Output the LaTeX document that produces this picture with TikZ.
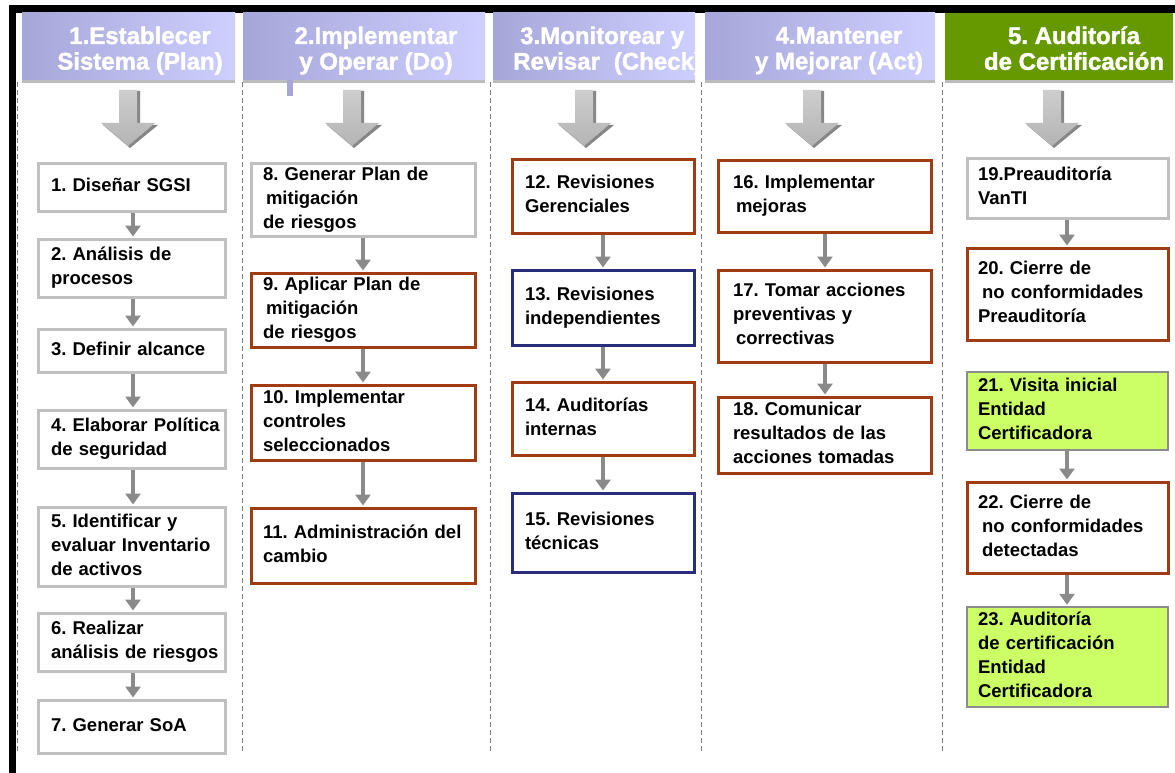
\documentclass[tikz,border=0pt]{standalone}
\usepackage{fontspec}
\setmainfont{Liberation Sans}
\newfontfamily\hdrfont{Liberation Sans}[BoldFeatures={FakeBold=1.6}]
\usetikzlibrary{arrows.meta}

\definecolor{bordergray}{RGB}{192,192,192}
\definecolor{borderbrown}{RGB}{160,60,18}
\definecolor{borderblue}{RGB}{44,44,124}
\definecolor{bordergreen}{RGB}{140,140,140}
\definecolor{fillgreen}{RGB}{204,255,102}
\definecolor{hdrgreen}{RGB}{102,153,0}
\definecolor{hdrdark}{RGB}{166,166,216}
\definecolor{hdrlight}{RGB}{206,206,255}
\definecolor{conncol}{RGB}{138,138,138}
\definecolor{sepcol}{RGB}{125,125,125}
\definecolor{bigarrowtop}{RGB}{205,205,205}
\definecolor{bigarrowbot}{RGB}{180,180,180}
\definecolor{bigarrowside}{RGB}{135,135,135}

\tikzset{
  task/.style={draw, line width=3pt, fill=white, inner ysep=0pt,
    font=\frenchspacing\bfseries\fontsize{18.5}{24}\selectfont, text=black},
  graybox/.style={draw=bordergray},
  brownbox/.style={draw=borderbrown},
  bluebox/.style={draw=borderblue},
  greenbox/.style={draw=bordergreen, line width=2.5pt, fill=fillgreen},
  hdr/.style={inner sep=0pt, draw=none},
  hdrtext/.style={inner sep=0pt, text=white,
    font=\frenchspacing\hdrfont\bfseries\fontsize{24}{24}\selectfont},
  conn/.style={draw=conncol, line width=3.5pt,
    -{Triangle[width=15pt,length=11pt]}, shorten >=1pt},
  sepline/.style={draw=sepcol, line width=0.9pt, dash pattern=on 5pt off 3pt},
}

% lines of a task box, kept exactly as broken
\newcommand{\boxlines}[1]{\begin{tabular}{@{}l@{}}#1\end{tabular}}
% name, style, text inset, x1, y1, x2, y2, text
\newcommand{\taskbox}[8]{%
  \pgfmathsetmacro{\tbw}{#6-#4}%
  \pgfmathsetmacro{\tbh}{#7-#5}%
  \pgfmathsetmacro{\tbt}{#6-#4-2*#3}%
  \node[task,#2,inner xsep=#3pt,minimum width=\tbw pt,minimum height=\tbh pt,
    text width=\tbt pt] (#1) at ({(#4+#6)/2},{(#5+#7)/2}) {\boxlines{#8}};}
% name, x1, x2, extra options
\newcommand{\hdrbox}[4]{%
  \pgfmathsetmacro{\hbw}{#3-#2}%
  \node[hdr,#4,minimum width=\hbw pt,minimum height=67pt] (#1) at ({(#2+#3)/2},46.5) {};
  \fill[gray!65, opacity=0.8] (#1.south west) rectangle ([yshift=-3pt]#1.south east);}

\begin{document}
\begin{tikzpicture}[x=1pt,y=-1pt]
\useasboundingbox (0,0) rectangle (1175,773);
\fill[white] (0,0) rectangle (1175,773);

% frame
\fill[black] (9,5) rectangle (1175,13);
\fill[black] (9,5) rectangle (16,773);

% column headers
\hdrbox{h1}{22}{235}{left color=hdrdark, right color=hdrlight}
\hdrbox{h2}{243}{485}{left color=hdrdark, right color=hdrlight}
\hdrbox{h3}{493}{695}{left color=hdrdark, right color=hdrlight}
\hdrbox{h4}{705}{935}{left color=hdrdark, right color=hdrlight}
\hdrbox{h5}{945}{1173}{fill=hdrgreen}
\fill[hdrdark] (287,80) rectangle (293,96);

\node[hdrtext, align=center] (t1) at (140,51.7) {1.Establecer\strut\\Sistema (Plan)\strut};
\node[hdrtext, align=center] (t2) at (376,51.7) {2.Implementar\strut\\y Operar (Do)\strut};
\begin{scope}
  \clip (493,13) rectangle (695,80);
  \node[hdrtext, align=left, anchor=west] (t3) at (513,51.7)
    {\hspace*{7pt}3.Monitorear y\strut\\Revisar\hspace{14pt}(Check)\strut};
\end{scope}
\node[hdrtext, align=center] (t4) at (839,51.7) {4.Mantener\strut\\y Mejorar (Act)\strut};
\node[hdrtext, align=center] (t5) at (1074,51.7) {5. Auditoría\strut\\de Certificación\strut};

% column separators
\foreach \sx in {17,242,490,701,942}
  \draw[sepline] (\sx,82) -- (\sx,751);

% large down arrows under the headers
\foreach \c in {128,352,584,812,1052} {
  \fill[bigarrowside] ({\c-6},91) -- ({\c+12},91) -- ({\c+12},125) -- ({\c+30},125)
    -- ({\c+2},148) -- ({\c-25},125) -- ({\c-6},125) -- cycle;
  \shade[top color=bigarrowtop, bottom color=bigarrowbot]
    ({\c-9},90) -- ({\c+9},90) -- ({\c+9},123) -- ({\c+27},123)
    -- (\c,146) -- ({\c-27},123) -- ({\c-9},123) -- cycle;
}

% column 1: Plan
\taskbox{b1}{graybox}{13}{38}{163}{225}{211}{1. Diseñar SGSI}
\taskbox{b2}{graybox}{13}{38}{239}{225}{297}{2. Análisis de\\procesos}
\taskbox{b3}{graybox}{13}{38}{329}{225}{372}{3. Definir alcance}
\taskbox{b4}{graybox}{13}{38}{410}{225}{468}{4. Elaborar Política\\de seguridad}
\taskbox{b5}{graybox}{13}{38}{507}{225}{586}{5. Identificar y\\evaluar Inventario\\de\hspace{6pt}activos}
\taskbox{b6}{graybox}{13}{38}{613}{225}{671}{6. Realizar\\análisis de\hspace{6pt}riesgos}
\taskbox{b7}{graybox}{13}{38}{700}{225}{753}{7. Generar SoA}

% column 2: Do
\taskbox{b8}{graybox}{12}{251}{163}{475}{236}{8. Generar Plan de\\\hspace*{3pt}mitigación\\de riesgos}
\taskbox{b9}{brownbox}{12}{251}{273}{475}{347}{9. Aplicar Plan de\\\hspace*{3pt}mitigación\\de riesgos}
\taskbox{b10}{brownbox}{12}{251}{385}{475}{460}{10. Implementar\\controles\\seleccionados}
\taskbox{b11}{brownbox}{12}{251}{508}{475}{583}{11. Administración del\\cambio}

% column 3: Check
\taskbox{b12}{brownbox}{13}{512}{159}{694}{233}{12. Revisiones\\Gerenciales}
\taskbox{b13}{bluebox}{13}{512}{270}{694}{345}{13. Revisiones\\independientes}
\taskbox{b14}{brownbox}{13}{512}{382}{694}{455}{14. Auditorías\\internas}
\taskbox{b15}{bluebox}{13}{512}{493}{694}{572}{15. Revisiones\\técnicas}

% column 4: Act
\taskbox{b16}{brownbox}{15}{718}{160}{931}{232}{16. Implementar\\\hspace*{3pt}mejoras}
\taskbox{b17}{brownbox}{15}{718}{270}{931}{362}{17. Tomar acciones\\preventivas y\\\hspace*{3pt}correctivas}
\taskbox{b18}{brownbox}{15}{718}{397}{931}{473}{18. Comunicar\\resultados de las\\acciones tomadas}

% column 5: certification audit
\taskbox{b19}{graybox}{11}{967}{158}{1168}{218}{19.Preauditoría\\VanTI}
\taskbox{b20}{brownbox}{11}{967}{248}{1168}{340}{20. Cierre de\\\hspace*{4pt}no conformidades\\Preauditoría}
\taskbox{b21}{greenbox}{11}{967}{372}{1168}{450}{21. Visita inicial\\Entidad\\Certificadora}
\taskbox{b22}{brownbox}{11}{967}{482}{1168}{573}{22. Cierre de\\\hspace*{4pt}no conformidades\\\hspace*{4pt}detectadas}
\taskbox{b23}{greenbox}{11}{967}{607}{1168}{707}{23. Auditoría\\de certificación\\Entidad\\Certificadora}

% x positions of the connectors in each column
\coordinate (ax1) at (133,0);
\coordinate (ax2) at (363,0);
\coordinate (ax3) at (603,0);
\coordinate (ax4) at (825,0);
\coordinate (ax5) at (1067,0);

\draw[conn] (b1.south -| ax1) -- (b2.north -| ax1);
\draw[conn] (b2.south -| ax1) -- (b3.north -| ax1);
\draw[conn] (b3.south -| ax1) -- (b4.north -| ax1);
\draw[conn] (b4.south -| ax1) -- (b5.north -| ax1);
\draw[conn] (b5.south -| ax1) -- (b6.north -| ax1);
\draw[conn] (b6.south -| ax1) -- (b7.north -| ax1);

\draw[conn] (b8.south -| ax2) -- (b9.north -| ax2);
\draw[conn] (b9.south -| ax2) -- (b10.north -| ax2);
\draw[conn] (b10.south -| ax2) -- (b11.north -| ax2);

\draw[conn] (b12.south -| ax3) -- (b13.north -| ax3);
\draw[conn] (b13.south -| ax3) -- (b14.north -| ax3);
\draw[conn] (b14.south -| ax3) -- (b15.north -| ax3);

\draw[conn] (b16.south -| ax4) -- (b17.north -| ax4);
\draw[conn] (b17.south -| ax4) -- (b18.north -| ax4);

\draw[conn] (b19.south -| ax5) -- (b20.north -| ax5);
\draw[conn] (b21.south -| ax5) -- (b22.north -| ax5);
\draw[conn] (b22.south -| ax5) -- (b23.north -| ax5);
\end{tikzpicture}
\end{document}
